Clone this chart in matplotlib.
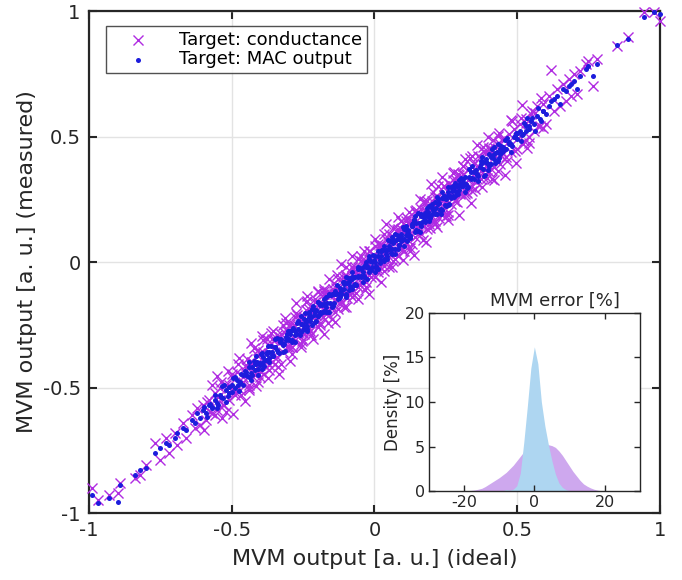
import matplotlib
matplotlib.use("Agg")
import matplotlib.pyplot as plt

plt.rcParams['font.family'] = ['DejaVu Sans']
plt.rcParams['axes.unicode_minus'] = False

# ideal MVM outputs (x) and the measured outputs for both programming targets
ideal = [
    -0.99, -0.97, -0.93, -0.90, -0.89, -0.84, -0.82, -0.80, -0.77, -0.75,
    -0.73, -0.72, -0.70, -0.69, -0.67, -0.66, -0.64, -0.63, -0.62, -0.61,
    -0.60, -0.59, -0.58, -0.57, -0.56, -0.55, -0.54, -0.53, -0.52, -0.51,
    -0.50, -0.49, -0.48, -0.47, -0.46, -0.45, -0.44, -0.43, -0.42, -0.41,
    -0.40, -0.39, -0.38, -0.37, -0.36, -0.35, -0.34, -0.33, -0.32, -0.31,
    -0.30,
    -0.295, -0.290, -0.284, -0.279, -0.272, -0.268, -0.262, -0.255, -0.251, -0.246,
    -0.240, -0.236, -0.229, -0.224, -0.219, -0.213, -0.208, -0.203, -0.197, -0.192,
    -0.186, -0.181, -0.176, -0.170, -0.165, -0.160, -0.154, -0.149, -0.143, -0.138,
    -0.133, -0.127, -0.122, -0.117, -0.111, -0.106, -0.100, -0.095, -0.090, -0.084,
    -0.079, -0.073, -0.068, -0.063, -0.057, -0.052, -0.047, -0.041, -0.036, -0.031,
    -0.025, -0.020, -0.015, -0.009, -0.004, 0.002, 0.007, 0.012, 0.018, 0.023,
    0.028, 0.034, 0.039, 0.044, 0.050, 0.055, 0.060, 0.066, 0.071, 0.077,
    0.082, 0.087, 0.093, 0.098, 0.103, 0.109, 0.114, 0.119, 0.125, 0.130,
    0.135, 0.141, 0.146, 0.152, 0.157, 0.162, 0.168, 0.173, 0.178, 0.184,
    0.189, 0.194, 0.200, 0.205, 0.211, 0.216, 0.221, 0.227, 0.232, 0.237,
    0.243, 0.248, 0.254, 0.259, 0.264, 0.270, 0.275, 0.280, 0.286, 0.291,
    0.296, 0.300,
    0.31, 0.32, 0.33, 0.34, 0.35, 0.36, 0.37, 0.38, 0.39, 0.40,
    0.41, 0.42, 0.43, 0.44, 0.45, 0.46, 0.47, 0.48, 0.49, 0.50,
    0.51, 0.52, 0.53, 0.54, 0.55, 0.56, 0.57, 0.58, 0.59, 0.60,
    0.61, 0.62, 0.63, 0.64, 0.65, 0.66, 0.67, 0.68, 0.69, 0.70,
    0.71, 0.72, 0.74, 0.75, 0.765, 0.78, 0.85, 0.89, 0.945, 0.98,
    1.0,
    -0.598, -0.588, -0.577, -0.569, -0.558, -0.548, -0.539, -0.528, -0.519, -0.508,
    -0.498, -0.489, -0.478, -0.468, -0.459, -0.449, -0.438, -0.429, -0.418, -0.409,
    -0.398, -0.389, -0.378, -0.369, -0.358, -0.348, -0.339, -0.328, -0.319, -0.308,
    -0.298, -0.289, -0.278, -0.269, -0.258, -0.248, -0.239, -0.228, -0.219, -0.208,
    -0.198, -0.189, -0.178, -0.169, -0.158, -0.148, -0.139, -0.128, -0.119, -0.108,
    -0.098, -0.089, -0.078, -0.069, -0.058, -0.048, -0.039, -0.028, -0.019, -0.008,
    0.003, 0.012, 0.023, 0.032, 0.043, 0.052, 0.063, 0.072, 0.083, 0.092,
    0.103, 0.112, 0.123, 0.132, 0.143, 0.152, 0.163, 0.172, 0.183, 0.192,
    0.203, 0.212, 0.223, 0.232, 0.243, 0.252, 0.263, 0.272, 0.283, 0.292,
    0.303, 0.312, 0.323, 0.332, 0.343, 0.352, 0.363, 0.372, 0.383, 0.392,
    0.403, 0.412, 0.423, 0.432, 0.443, 0.452, 0.463, 0.472, 0.483, 0.492,
    0.503, 0.512, 0.523, 0.532, 0.543, 0.552, 0.563, 0.572, 0.583, 0.592,
    -0.446, -0.438, -0.431, -0.423, -0.416, -0.408, -0.401, -0.393, -0.386, -0.378,
    -0.371, -0.363, -0.356, -0.348, -0.341, -0.333, -0.326, -0.318, -0.311, -0.303,
    -0.296, -0.288, -0.281, -0.273, -0.266, -0.258, -0.251, -0.243, -0.236, -0.228,
    -0.221, -0.213, -0.206, -0.198, -0.191, -0.183, -0.176, -0.168, -0.161, -0.153,
    -0.146, -0.138, -0.131, -0.123, -0.116, -0.108, -0.101, -0.093, -0.086, -0.078,
    -0.071, -0.063, -0.056, -0.048, -0.041, -0.033, -0.026, -0.018, -0.011, -0.003,
    0.004, 0.012, 0.019, 0.027, 0.034, 0.042, 0.049, 0.057, 0.064, 0.072,
    0.079, 0.087, 0.094, 0.102, 0.109, 0.117, 0.124, 0.132, 0.139, 0.147,
    0.154, 0.162, 0.169, 0.177, 0.184, 0.192, 0.199, 0.207, 0.214, 0.222,
    0.229, 0.237, 0.244, 0.252, 0.259, 0.267, 0.274, 0.282, 0.289, 0.297,
    0.304, 0.312, 0.319, 0.327, 0.334, 0.342, 0.349, 0.357, 0.364, 0.372,
    0.379, 0.387, 0.394, 0.402, 0.409, 0.417, 0.424, 0.432, 0.439, 0.447,
    -0.553, -0.533, -0.514, -0.494, -0.473, -0.455, -0.434, -0.414,
    -0.395, -0.374, -0.356, -0.335, -0.315, -0.296, -0.275, -0.257,
    -0.236, -0.216, -0.197, -0.176, -0.158, -0.137, -0.117, -0.098,
    -0.077, -0.059, -0.038, -0.018, 0.001, 0.022, 0.040, 0.061,
    0.081, 0.100, 0.121, 0.139, 0.160, 0.180, 0.199, 0.220,
    0.238, 0.259, 0.279, 0.298, 0.319, 0.337, 0.358, 0.378,
    0.397, 0.418, 0.436, 0.457, 0.477, 0.496, 0.517, 0.535,
]

meas_conductance = [
    -0.90, -0.95, -0.93, -0.92, -0.88, -0.86, -0.85, -0.81, -0.72, -0.79,
    -0.70, -0.76, -0.68, -0.73, -0.64, -0.70, -0.61, -0.66, -0.58, -0.65,
    -0.57, -0.63, -0.55, -0.60, -0.52, -0.59, -0.50, -0.57, -0.49, -0.55,
    -0.46, -0.53, -0.44, -0.51, -0.48, -0.42, -0.50, -0.40, -0.45, -0.37,
    -0.46, -0.36, -0.42, -0.33, -0.40, -0.31, -0.38, -0.30, -0.36, -0.27,
    -0.34,
    -0.255, -0.340, -0.264, -0.309, -0.212, -0.278, -0.232, -0.315, -0.241, -0.286,
    -0.190, -0.256, -0.189, -0.274, -0.199, -0.243, -0.148, -0.213, -0.167, -0.252,
    -0.176, -0.221, -0.126, -0.190, -0.125, -0.210, -0.134, -0.179, -0.083, -0.148,
    -0.103, -0.187, -0.112, -0.157, -0.061, -0.126, -0.060, -0.145, -0.070, -0.114,
    -0.019, -0.083, -0.038, -0.123, -0.047, -0.092, 0.003, -0.061, 0.004, -0.081,
    -0.005, -0.050, 0.045, -0.019, 0.026, -0.058, 0.017, -0.028, 0.068, 0.003,
    0.068, -0.016, 0.059, 0.014, 0.110, 0.045, 0.090, 0.006, 0.081, 0.037,
    0.132, 0.067, 0.133, 0.048, 0.123, 0.079, 0.174, 0.109, 0.155, 0.070,
    0.145, 0.101, 0.196, 0.132, 0.197, 0.112, 0.188, 0.143, 0.238, 0.174,
    0.219, 0.134, 0.210, 0.165, 0.261, 0.196, 0.261, 0.177, 0.252, 0.207,
    0.303, 0.238, 0.284, 0.199, 0.274, 0.230, 0.325, 0.260, 0.326, 0.241,
    0.316, 0.270,
    0.35, 0.28, 0.37, 0.30, 0.39, 0.33, 0.42, 0.34, 0.43, 0.36,
    0.45, 0.38, 0.47, 0.39, 0.49, 0.42, 0.51, 0.44, 0.53, 0.45,
    0.55, 0.47, 0.57, 0.50, 0.59, 0.52, 0.62, 0.54, 0.63, 0.55,
    0.66, 0.765, 0.60, 0.69, 0.62, 0.71, 0.64, 0.73, 0.66, 0.75,
    0.67, 0.76, 0.79, 0.80, 0.70, 0.81, 0.86, 0.895, 0.995, 0.995,
    0.96,
    -0.668, -0.558, -0.597, -0.489, -0.608, -0.538, -0.479, -0.568, -0.599, -0.488,
    -0.448, -0.519, -0.408, -0.528, -0.459, -0.409, -0.508, -0.399, -0.428, -0.349,
    -0.438, -0.309, -0.398, -0.429, -0.308, -0.338, -0.419, -0.288, -0.249, -0.338,
    -0.278, -0.339, -0.218, -0.279, -0.328, -0.218, -0.159, -0.268, -0.219, -0.158,
    -0.258, -0.169, -0.108, -0.199, -0.118, -0.228, -0.129, -0.068, -0.169, -0.078,
    -0.018, -0.109, -0.138, -0.019, -0.098, 0.022, -0.039, -0.098, 0.011, -0.018,
    0.063, -0.038, 0.043, 0.112, 0.013, -0.018, 0.103, 0.082, 0.023, 0.162,
    0.083, 0.162, 0.043, 0.162, 0.203, 0.112, 0.153, 0.242, 0.133, 0.212,
    0.243, 0.152, 0.303, 0.212, 0.253, 0.182, 0.313, 0.302, 0.243, 0.352,
    0.273, 0.382, 0.273, 0.332, 0.423, 0.292, 0.383, 0.332, 0.443, 0.382,
    0.453, 0.332, 0.453, 0.502, 0.423, 0.492, 0.403, 0.482, 0.563, 0.442,
    0.493, 0.572, 0.483, 0.552, 0.473, 0.602, 0.593, 0.542, 0.653, 0.532,
    -0.386, -0.488, -0.411, -0.343, -0.446, -0.478, -0.361, -0.383, -0.446, -0.308,
    -0.411, -0.283, -0.376, -0.408, -0.291, -0.323, -0.406, -0.278, -0.241, -0.333,
    -0.246, -0.368, -0.251, -0.203, -0.286, -0.218, -0.311, -0.233, -0.156, -0.278,
    -0.291, -0.183, -0.226, -0.118, -0.241, -0.173, -0.116, -0.208, -0.241, -0.133,
    -0.106, -0.198, -0.051, -0.143, -0.106, -0.178, -0.051, -0.063, -0.126, -0.018,
    -0.131, -0.043, 0.014, -0.078, -0.001, -0.113, -0.016, 0.042, -0.061, 0.027,
    -0.006, 0.072, -0.021, 0.047, -0.036, 0.092, 0.079, 0.027, 0.134, 0.012,
    0.129, 0.057, 0.164, 0.042, 0.109, 0.157, 0.054, 0.162, 0.129, 0.207,
    0.134, 0.212, 0.089, 0.207, 0.244, 0.152, 0.189, 0.277, 0.164, 0.242,
    0.249, 0.187, 0.304, 0.242, 0.189, 0.297, 0.354, 0.242, 0.289, 0.347,
    0.274, 0.382, 0.269, 0.327, 0.414, 0.282, 0.369, 0.317, 0.424, 0.362,
    0.459, 0.367, 0.334, 0.452, 0.369, 0.487, 0.424, 0.362, 0.469, 0.437,
    -0.453, -0.623, -0.434, -0.604, -0.383, -0.555, -0.324, -0.494,
    -0.295, -0.464, -0.276, -0.445, -0.225, -0.396, -0.165, -0.337,
    -0.136, -0.306, -0.117, -0.286, -0.068, -0.237, -0.007, -0.178,
    0.023, -0.149, 0.042, -0.128, 0.091, -0.078, 0.150, -0.019,
    0.181, 0.010, 0.201, 0.029, 0.250, 0.080, 0.309, 0.140,
    0.338, 0.169, 0.359, 0.188, 0.409, 0.237, 0.468, 0.298,
    0.497, 0.328, 0.516, 0.347, 0.567, 0.396, 0.627, 0.455,
]

meas_mac = [
    -0.93, -0.96, -0.94, -0.955, -0.89, -0.85, -0.83, -0.82, -0.76, -0.74,
    -0.72, -0.73, -0.70, -0.68, -0.66, -0.67, -0.63, -0.64, -0.60, -0.62,
    -0.59, -0.60, -0.57, -0.58, -0.55, -0.56, -0.53, -0.54, -0.51, -0.52,
    -0.49, -0.50, -0.47, -0.48, -0.45, -0.44, -0.46, -0.42, -0.43, -0.40,
    -0.41, -0.38, -0.39, -0.36, -0.37, -0.34, -0.35, -0.32, -0.33, -0.30,
    -0.31,
    -0.285, -0.310, -0.264, -0.289, -0.242, -0.268, -0.292, -0.245, -0.271, -0.226,
    -0.230, -0.256, -0.209, -0.234, -0.189, -0.213, -0.238, -0.193, -0.217, -0.172,
    -0.166, -0.201, -0.166, -0.200, -0.165, -0.130, -0.164, -0.129, -0.163, -0.128,
    -0.123, -0.147, -0.102, -0.127, -0.081, -0.106, -0.130, -0.085, -0.110, -0.064,
    -0.059, -0.093, -0.058, -0.093, -0.057, -0.022, -0.057, -0.021, -0.056, -0.021,
    -0.015, -0.040, 0.005, -0.019, 0.026, 0.002, -0.023, 0.022, -0.002, 0.043,
    0.048, 0.014, 0.049, 0.014, 0.050, 0.085, 0.050, 0.086, 0.051, 0.087,
    0.092, 0.067, 0.113, 0.088, 0.133, 0.109, 0.084, 0.129, 0.105, 0.150,
    0.155, 0.121, 0.156, 0.122, 0.157, 0.192, 0.158, 0.193, 0.158, 0.194,
    0.199, 0.174, 0.220, 0.195, 0.241, 0.216, 0.191, 0.237, 0.212, 0.257,
    0.263, 0.228, 0.264, 0.229, 0.264, 0.300, 0.265, 0.300, 0.266, 0.301,
    0.286, 0.310,
    0.32, 0.31, 0.34, 0.33, 0.36, 0.35, 0.38, 0.37, 0.40, 0.39,
    0.42, 0.41, 0.44, 0.43, 0.46, 0.45, 0.48, 0.47, 0.50, 0.49,
    0.52, 0.51, 0.54, 0.53, 0.56, 0.55, 0.58, 0.57, 0.60, 0.59,
    0.62, 0.64, 0.65, 0.66, 0.63, 0.69, 0.68, 0.70, 0.71, 0.72,
    0.69, 0.74, 0.77, 0.78, 0.74, 0.79, 0.865, 0.89, 0.975, 0.995,
    0.99,
    -0.578, -0.618, -0.567, -0.579, -0.528, -0.568, -0.539, -0.488, -0.559, -0.498,
    -0.518, -0.459, -0.488, -0.448, -0.489, -0.449, -0.398, -0.449, -0.408, -0.449,
    -0.368, -0.399, -0.358, -0.399, -0.358, -0.308, -0.359, -0.318, -0.359, -0.288,
    -0.308, -0.269, -0.318, -0.239, -0.248, -0.268, -0.239, -0.198, -0.249, -0.198,
    -0.158, -0.209, -0.168, -0.179, -0.128, -0.178, -0.119, -0.128, -0.139, -0.078,
    -0.128, -0.079, -0.038, -0.089, -0.058, -0.028, -0.079, 0.002, -0.029, 0.002,
    0.023, -0.028, 0.023, 0.062, 0.023, 0.062, 0.033, 0.112, 0.093, 0.082,
    0.093, 0.142, 0.103, 0.142, 0.183, 0.122, 0.183, 0.162, 0.183, 0.222,
    0.233, 0.192, 0.233, 0.192, 0.263, 0.252, 0.233, 0.282, 0.313, 0.272,
    0.303, 0.332, 0.293, 0.372, 0.333, 0.362, 0.343, 0.402, 0.343, 0.412,
    0.383, 0.452, 0.433, 0.402, 0.463, 0.442, 0.493, 0.472, 0.463, 0.502,
    0.513, 0.482, 0.553, 0.522, 0.543, 0.572, 0.523, 0.612, 0.563, 0.602,
    -0.456, -0.418, -0.471, -0.393, -0.406, -0.428, -0.401, -0.363, -0.416, -0.368,
    -0.381, -0.333, -0.376, -0.338, -0.301, -0.363, -0.306, -0.328, -0.311, -0.273,
    -0.276, -0.318, -0.271, -0.283, -0.236, -0.278, -0.251, -0.203, -0.276, -0.218,
    -0.221, -0.193, -0.236, -0.158, -0.201, -0.173, -0.196, -0.138, -0.201, -0.133,
    -0.176, -0.128, -0.091, -0.143, -0.116, -0.088, -0.141, -0.063, -0.096, -0.068,
    -0.061, -0.093, -0.026, -0.058, -0.041, -0.013, -0.066, 0.022, -0.031, 0.007,
    -0.016, 0.042, 0.009, 0.047, 0.004, 0.042, 0.089, 0.037, 0.074, 0.032,
    0.109, 0.067, 0.104, 0.062, 0.129, 0.117, 0.094, 0.142, 0.169, 0.127,
    0.194, 0.142, 0.179, 0.167, 0.214, 0.162, 0.219, 0.207, 0.194, 0.252,
    0.209, 0.277, 0.254, 0.222, 0.279, 0.257, 0.304, 0.282, 0.269, 0.307,
    0.334, 0.302, 0.339, 0.297, 0.334, 0.382, 0.329, 0.367, 0.324, 0.392,
    0.399, 0.347, 0.394, 0.432, 0.389, 0.427, 0.394, 0.472, 0.449, 0.437,
    -0.583, -0.493, -0.534, -0.464, -0.513, -0.435, -0.444, -0.374,
    -0.425, -0.334, -0.376, -0.305, -0.355, -0.276, -0.285, -0.217,
    -0.266, -0.176, -0.217, -0.146, -0.198, -0.117, -0.127, -0.058,
    -0.107, -0.019, -0.058, 0.012, -0.039, 0.042, 0.030, 0.101,
    0.051, 0.140, 0.101, 0.169, 0.120, 0.200, 0.189, 0.260,
    0.208, 0.299, 0.259, 0.328, 0.279, 0.357, 0.348, 0.418,
    0.367, 0.458, 0.416, 0.487, 0.437, 0.516, 0.507, 0.575,
]

# inset: distribution of the MVM error
err_grid = list(range(-22, 23))
density_conductance = [
    0.0, 0.0, 0.02, 0.04, 0.07, 0.12, 0.2, 0.3, 0.5, 0.75,
    1.0, 1.25, 1.5, 1.8, 2.1, 2.5, 2.9, 3.4, 3.9, 4.4,
    4.9, 5.2, 5.3, 5.3, 5.3, 5.25, 5.2, 5.1, 4.9, 4.5,
    4.0, 3.4, 2.8, 2.2, 1.7, 1.2, 0.8, 0.55, 0.35, 0.2,
    0.1, 0.04, 0.01, 0.0, 0.0,
]
density_mac = [
    0.0, 0.0, 0.0, 0.0, 0.0, 0.0, 0.0, 0.0, 0.0, 0.0,
    0.0, 0.0, 0.0, 0.05, 0.15, 0.1, 0.2, 0.6, 2.0, 5.5,
    9.5, 13.8, 16.2, 14.3, 10.0, 7.3, 5.2, 3.4, 1.9, 0.9,
    0.4, 0.15, 0.05, 0.0, 0.0, 0.0, 0.0, 0.0, 0.0, 0.0,
    0.0, 0.0, 0.0, 0.0, 0.0,
]

cross_color = '#B02CE2'
dot_color = '#1C1CDC'
axis_color = '#262626'

fig = plt.figure(figsize=(6.82, 5.8), dpi=100)
ax = fig.add_axes([0.1305, 0.1155, 0.837, 0.8655])

ax.scatter(ideal, meas_conductance, marker='x', s=52, linewidths=1.0,
           color=cross_color, label='Target: conductance', clip_on=False, zorder=3)
ax.scatter(ideal, meas_mac, marker='o', s=13, linewidths=0,
           color=dot_color, label='Target: MAC output', clip_on=False, zorder=4)

ax.set_xlim(-1, 1)
ax.set_ylim(-1, 1)
ax.set_xticks([-1, -0.5, 0, 0.5, 1])
ax.set_yticks([-1, -0.5, 0, 0.5, 1])
ax.set_xticklabels(['-1', '-0.5', '0', '0.5', '1'])
ax.set_yticklabels(['-1', '-0.5', '0', '0.5', '1'])
ax.grid(True, color='#E3E3E3', linewidth=1)
ax.set_axisbelow(True)
ax.tick_params(direction='in', top=True, right=True, length=6, width=1.5,
               labelsize=14, colors=axis_color, pad=6)
for sp in ax.spines.values():
    sp.set_linewidth(1.6)
    sp.set_color(axis_color)
ax.set_xlabel('MVM output [a. u.] (ideal)', fontsize=16, color=axis_color, labelpad=6)
ax.set_ylabel('MVM output [a. u.] (measured)', fontsize=16, color=axis_color, labelpad=4)

leg = ax.legend(loc='upper left', bbox_to_anchor=(0.03, 0.97), fontsize=13,
                frameon=True, fancybox=False, edgecolor=axis_color,
                handlelength=3.0, handletextpad=0.8, borderpad=0.25,
                labelspacing=0.1, borderaxespad=0)
leg.get_frame().set_linewidth(1.0)

# inset with the error distribution
ax_in = fig.add_axes([0.629, 0.1534, 0.309, 0.307])
ax_in.fill_between(err_grid, density_conductance, color='#CEA8EE', linewidth=0)
ax_in.fill_between(err_grid, density_mac, color='#AED6F1', linewidth=0)
ax_in.set_xlim(-30, 30)
ax_in.set_ylim(0, 20)
ax_in.set_xticks([-20, 0, 20])
ax_in.set_yticks([0, 5, 10, 15, 20])
ax_in.tick_params(direction='in', top=True, right=True, length=4, width=1,
                  labelsize=11.5, colors=axis_color, pad=3)
for sp in ax_in.spines.values():
    sp.set_linewidth(1.0)
    sp.set_color(axis_color)
ax_in.set_ylabel('Density [%]', fontsize=12, color=axis_color, labelpad=2)
ax_in.set_title('MVM error [%]', fontsize=13, color=axis_color, x=0.6, pad=5)

fig.savefig('out.png', dpi=100)
